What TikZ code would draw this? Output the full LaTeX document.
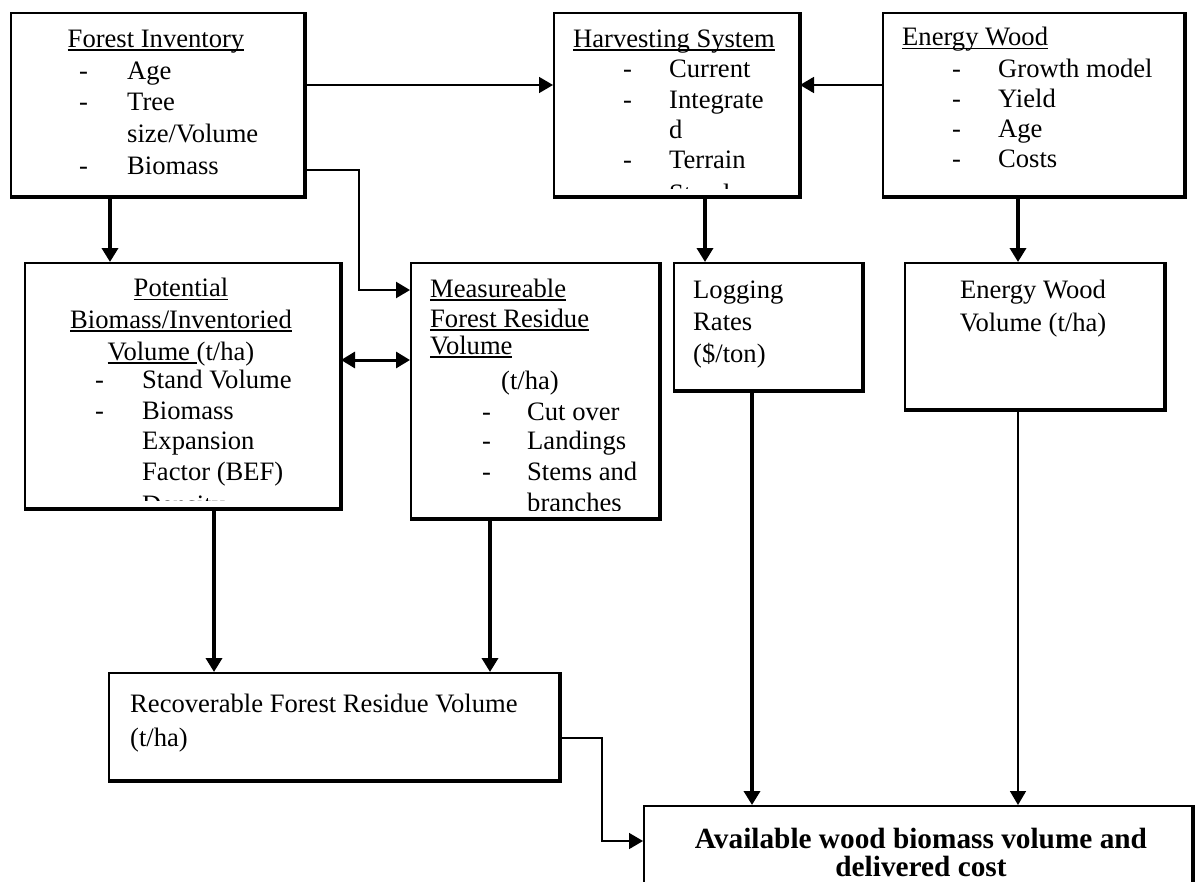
\documentclass[tikz,border=0pt]{standalone}
\usepackage{fontspec}
\setmainfont{Liberation Serif}
\usetikzlibrary{arrows.meta,calc}
\newsavebox\ulbox
\newcommand{\myul}[1]{\sbox\ulbox{#1}\rlap{\rule[-3.5pt]{\wd\ulbox}{1.4pt}}\usebox\ulbox}
\newcommand{\dsh}[1]{\makebox[#1][l]{-}}
\begin{document}
\begin{tikzpicture}[x=1pt,y=-1pt,
  font=\fontsize{26.6}{31}\selectfont,
  box/.style={draw, line width=2pt, anchor=north west, inner sep=0pt},
  txt/.style={anchor=base west, inner sep=0pt},
  ctxt/.style={anchor=base, inner sep=0pt},
  hd/.tip={Triangle[length=14pt,width=16pt]},
  thickc/.style={line width=3.5pt, -hd},
  thinc/.style={line width=1.6pt, -hd},
  midc/.style={line width=2.4pt, -hd},
  edgetwo/.style={line width=4pt, line join=miter}
]
\useasboundingbox (0,0) rectangle (1204,881);
\fill[white] (0,0) rectangle (1204,881);

% boxes
\node[box, minimum width=293pt, minimum height=183pt] (fi) at (10,12) {};
\node[box, minimum width=245pt, minimum height=183pt] (hs) at (553,12) {};
\node[box, minimum width=301pt, minimum height=183pt] (ew) at (882,12) {};
\node[box, minimum width=315pt, minimum height=245pt] (pb) at (24,262) {};
\node[box, minimum width=248pt, minimum height=255pt] (mf) at (410,262) {};
\node[box, minimum width=188pt, minimum height=127pt] (lr) at (673,262) {};
\node[box, minimum width=259pt, minimum height=146pt] (ev) at (904,262) {};
\node[box, minimum width=450pt, minimum height=107pt] (rv) at (108,672) {};
\node[box, minimum width=548pt, minimum height=100pt] (av) at (643,805) {};
\foreach \n in {fi,hs,ew,pb,mf,lr,ev,rv,av}
  \draw[edgetwo] (\n.north east) -- (\n.south east) -- (\n.south west);

% Forest Inventory
\begin{scope}
\clip (fi.north west) rectangle ([yshift=9pt]fi.south east);
\node[ctxt] (fit) at (156,47) {\myul{Forest Inventory}};
\node[txt] (fi1) at (79,79) {\dsh{48pt}Age};
\node[txt] (fi2) at (79,110) {\dsh{48pt}Tree};
\node[txt] (fi3) at (127,142) {size/Volume};
\node[txt] (fi4) at (79,174) {\dsh{48pt}Biomass};
\end{scope}

% Harvesting System
\begin{scope}
\clip (hs.north west) rectangle ([yshift=9pt]hs.south east);
\node[ctxt] (hst) at (674,47) {\myul{Harvesting System}};
\node[txt] (hs1) at (623,77) {\dsh{46pt}Current};
\node[txt] (hs2) at (623,108) {\dsh{46pt}Integrate};
\node[txt] (hs3) at (669,138) {d};
\node[txt] (hs4) at (623,168) {\dsh{46pt}Terrain};
\node[txt] (hs5) at (623,202) {\dsh{46pt}Stand};
\end{scope}

% Energy Wood
\begin{scope}
\clip (ew.north west) rectangle ([yshift=9pt]ew.south east);
\node[txt] (ewt) at (902,45.5) {\myul{Energy Wood}};
\node[txt] (ew1) at (952,77) {\dsh{46pt}Growth model};
\node[txt] (ew2) at (952,107) {\dsh{46pt}Yield};
\node[txt] (ew3) at (952,137) {\dsh{46pt}Age};
\node[txt] (ew4) at (952,167) {\dsh{46pt}Costs};
\end{scope}

% Potential Biomass
\begin{scope}
\clip (pb.north west) rectangle ([yshift=9pt]pb.south east);
\node[ctxt] (pbt1) at (181,296.7) {\myul{Potential}};
\node[ctxt] (pbt2) at (181,328) {\myul{Biomass/Inventoried}};
\node[ctxt] (pbt3) at (181,360) {\myul{Volume\ }(t/ha)};
\node[txt] (pb1) at (95,388.5) {\dsh{47pt}Stand Volume};
\node[txt] (pb2) at (95,419) {\dsh{47pt}Biomass};
\node[txt] (pb3) at (142,449.5) {Expansion};
\node[txt] (pb4) at (142,480) {Factor (BEF)};
\node[txt] (pb5) at (95,513) {\dsh{47pt}Density};
\end{scope}

% Measureable
\begin{scope}
\clip (mf.north west) rectangle ([yshift=9pt]mf.south east);
\node[txt] (mft1) at (430,297) {\myul{Measureable}};
\node[txt] (mft2) at (430,327) {\myul{Forest Residue}};
\node[txt] (mft3) at (430,354) {\myul{Volume}};
\node[ctxt] (mft4) at (530,389) {(t/ha)};
\node[txt] (mf1) at (482,420) {\dsh{45pt}Cut over};
\node[txt] (mf2) at (482,449) {\dsh{45pt}Landings};
\node[txt] (mf3) at (482,480) {\dsh{45pt}Stems and};
\node[txt] (mf4) at (527,511.5) {branches};
\end{scope}

% Logging rates
\node[txt] (lr1) at (693,298) {Logging};
\node[txt] (lr2) at (693,330) {Rates};
\node[txt] (lr3) at (693,362) {(\$/ton)};

% Energy wood volume
\node[ctxt] (ev1) at (1033,298) {Energy Wood};
\node[ctxt] (ev2) at (1033,331) {Volume (t/ha)};

% Recoverable
\node[txt] (rv1) at (130,712) {Recoverable Forest Residue Volume};
\node[txt] (rv2) at (130,746) {(t/ha)};

% Available
\node[ctxt, font=\fontsize{29.3}{34}\selectfont\bfseries] (av1) at (921,848) {Available wood biomass volume and};
\node[ctxt, font=\fontsize{29.3}{34}\selectfont\bfseries] (av2) at (921,876) {delivered cost};

% connectors
\coordinate (a1) at ([yshift=-73pt]fi.north east);
\draw[thinc] (a1) -- (a1 -| hs.west);
\draw[line width=1.8pt, -hd] (a1 -| ew.west) -- (a1 -| hs.east);

\coordinate (a2) at ([yshift=-158pt]fi.north east);
\coordinate (a3) at ([yshift=-28pt]mf.north west);
\draw[midc] (a2) -- ++(54,0) |- (a3);

\coordinate (a4) at ([xshift=100pt]fi.south west);
\draw[thickc] (a4) -- (a4 |- pb.north);

\coordinate (a5) at ([xshift=32pt]lr.north west);
\draw[thickc] (a5 |- hs.south) -- (a5);

\coordinate (a6) at ([xshift=114pt]ev.north west);
\draw[thickc] (a6 |- ew.south) -- (a6);

\coordinate (a7) at ([yshift=-98pt]pb.north east);
\draw[line width=3pt, hd-hd] (a7) -- (a7 -| mf.west);

\coordinate (a8) at ([xshift=190pt]pb.south west);
\draw[thickc] (a8) -- (a8 |- rv.north);
\coordinate (a9) at ([xshift=80pt]mf.south west);
\draw[thickc] (a9) -- (a9 |- rv.north);

\coordinate (a10) at ([xshift=79pt]lr.south west);
\draw[thickc] (a10) -- (a10 |- av.north);
\draw[thinc] (a6 |- ev.south) -- (a6 |- av.north);

\coordinate (a11) at ([yshift=-66pt]rv.north east);
\coordinate (a12) at ([yshift=-36pt]av.north west);
\draw[thinc] (a11) -- ++(42,0) |- (a12);
\end{tikzpicture}
\end{document}
